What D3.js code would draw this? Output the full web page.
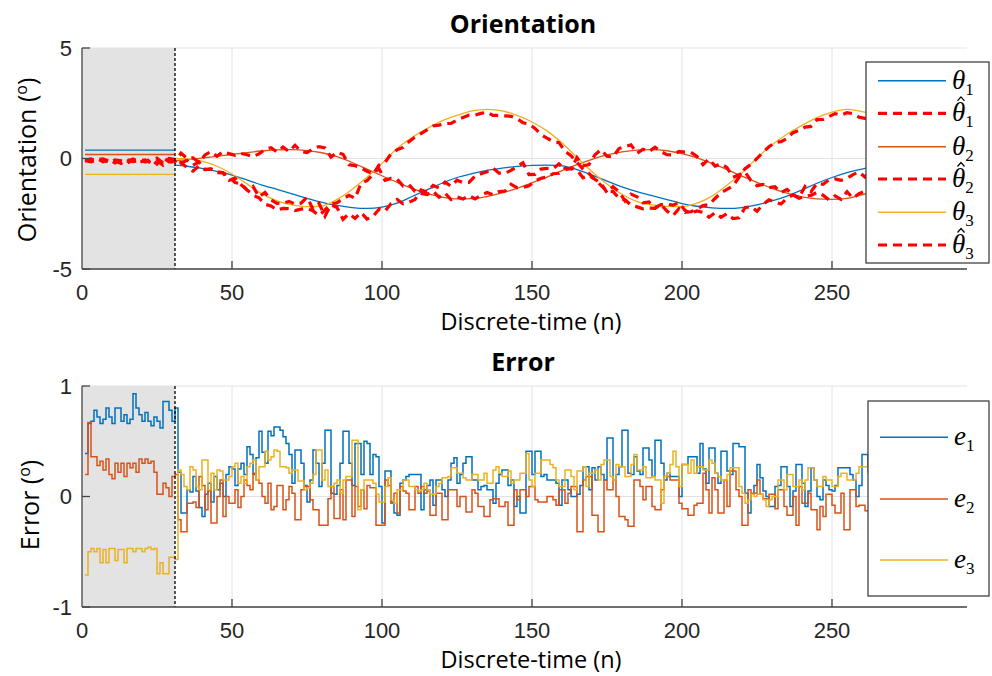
<!DOCTYPE html>
<html>
<head>
<meta charset="utf-8">
<script src="https://cdn.jsdelivr.net/npm/d3@7"></script>
<style>
  body { margin: 0; background: #fff; }
  svg { display: block; font-family: "Open Sans", Lato, sans-serif; }
</style>
</head>
<body>
<div id="chart"></div>
<script>
"use strict";

// ---- data ----
const initEnd = 31; // end of the initialisation window (shaded)

// true orientations, sampled every few steps after the init window
const thetaN = [31,35,40,45,50,55,60,65,70,75,80,85,90,95,100,105,110,115,120,125,130,135,140,145,150,155,160,165,170,175,180,185,190,195,200,205,210,215,220,225,230,235,240,245,250,255,260,265];
const theta1 = [-0.30,-0.35,-0.45,-0.58,-0.75,-0.97,-1.2,-1.4,-1.6,-1.8,-1.98,-2.12,-2.22,-2.26,-2.2,-2.02,-1.72,-1.42,-1.12,-0.86,-0.68,-0.54,-0.44,-0.36,-0.31,-0.3,-0.33,-0.5,-0.75,-1.02,-1.28,-1.5,-1.68,-1.86,-2.04,-2.16,-2.23,-2.26,-2.22,-2.1,-1.92,-1.7,-1.42,-1.12,-0.86,-0.64,-0.48,-0.36];
const theta2 = [-0.1,-0.05,0.02,0.1,0.18,0.27,0.34,0.39,0.4,0.36,0.26,0.08,-0.18,-0.48,-0.78,-1.08,-1.35,-1.58,-1.75,-1.83,-1.82,-1.72,-1.56,-1.35,-1.1,-0.84,-0.55,-0.28,-0.04,0.16,0.3,0.38,0.4,0.35,0.22,0.03,-0.22,-0.5,-0.8,-1.08,-1.35,-1.57,-1.74,-1.83,-1.85,-1.8,-1.64,-1.48];
const theta3 = [0.0,-0.02,-0.12,-0.35,-0.7,-1.15,-1.6,-1.92,-2.1,-2.18,-2.15,-1.85,-1.4,-0.85,-0.22,0.45,0.95,1.35,1.7,1.95,2.15,2.22,2.15,1.95,1.65,1.25,0.7,0.05,-0.6,-1.15,-1.62,-1.95,-2.1,-2.17,-2.18,-2.02,-1.7,-1.2,-0.65,0.02,0.62,1.1,1.5,1.85,2.1,2.22,2.12,1.95];
// constant values inside the init window (n = 1..31)
const thetaInit = [0.38, 0.18, -0.72];

// estimates, every second sample n = 1, 3, ..., 263
const est1 = [-0.05,-0.1,0.0,-0.15,-0.05,-0.2,-0.08,-0.12,-0.02,-0.18,-0.1,-0.05,-0.25,0.05,-0.15,
  -0.15,-0.18,-0.41,-0.57,-0.33,-0.50,-0.48,-0.64,-0.65,-0.99,
  -0.89,-1.18,-1.42,-1.26,-1.74,-1.54,-1.87,-2.03,-2.02,-1.94,
  -2.06,-2.02,-1.75,-2.29,-2.03,-2.61,-2.09,-2.22,-2.75,-2.5,
  -2.71,-2.44,-2.74,-2.62,-2.30,-2.39,-2.04,-1.85,-2.05,-1.98,
  -1.86,-1.42,-1.52,-1.22,-1.33,-1.07,-1.26,-0.98,-1.09,-1.08,
  -0.80,-0.69,-0.60,-0.44,-0.66,-0.66,-0.54,-0.36,-0.19,-0.73,
  -0.72,-0.48,-0.45,-0.46,-0.24,-0.51,-0.43,-0.52,-0.87,-0.76,
  -0.95,-1.11,-1.55,-1.27,-1.50,-1.92,-1.61,-1.73,-2.01,-1.97,
  -2.23,-2.09,-2.07,-2.11,-2.0,-2.35,-2.47,-2.37,-2.44,-2.66,
  -2.45,-2.66,-2.49,-2.72,-2.68,-2.23,-2.17,-2.39,-2.08,-1.87,
  -1.97,-2.06,-1.79,-1.64,-1.77,-1.27,-1.50,-1.12,-1.17,-0.97,
  -0.92,-0.99,-0.90,-0.73,-0.61,-0.84,-0.61];
const est2 = [-0.08,-0.02,-0.12,-0.05,-0.18,-0.06,-0.1,-0.2,-0.08,-0.04,-0.15,-0.12,0.02,-0.2,-0.05,
  -0.15,0.24,0.01,0.03,-0.18,0.16,0.31,0.10,0.31,0.22,
  0.14,0.23,0.17,0.09,0.21,0.41,0.49,0.29,0.52,0.31,
  0.60,0.32,0.27,0.44,0.54,0.48,0.06,0.28,0.19,-0.28,
  -0.33,-0.42,-0.58,-0.68,-0.46,-0.99,-0.90,-0.93,-1.24,-1.18,
  -1.49,-1.58,-1.63,-1.48,-1.75,-1.56,-1.86,-1.74,-1.83,-1.68,
  -1.83,-1.67,-1.54,-1.64,-1.50,-1.47,-1.17,-1.32,-1.31,-1.24,
  -1.02,-0.89,-0.84,-0.69,-0.67,-0.44,-0.48,0.04,-0.33,-0.27,
  0.17,0.40,0.10,0.07,0.45,0.53,0.62,0.23,0.42,0.31,
  0.51,0.31,0.17,0.16,0.32,0.29,0.28,0.09,-0.28,-0.02,
  -0.34,-0.24,-0.41,-0.85,-0.74,-0.60,-1.00,-1.23,-1.17,-1.32,
  -1.28,-1.54,-1.40,-1.64,-1.80,-1.70,-1.67,-1.53,-1.66,-1.87,
  -1.69,-1.85,-1.50,-1.80,-1.59,-1.48,-1.42];
const est3 = [-0.1,-0.15,-0.06,-0.02,-0.12,-0.1,-0.22,-0.05,-0.14,-0.1,-0.06,-0.2,-0.1,-0.3,0.0,
  -0.05,-0.21,-0.08,-0.30,-0.16,-0.50,-0.47,-0.59,-0.64,-0.81,
  -1.09,-1.15,-1.42,-1.66,-1.78,-2.07,-2.15,-2.33,-2.26,-2.27,
  -2.36,-2.29,-2.26,-2.37,-2.58,-2.33,-2.06,-2.00,-1.82,-1.67,
  -1.80,-1.13,-1.00,-0.72,-0.30,-0.18,0.21,0.39,0.50,0.76,
  0.97,1.13,1.29,1.47,1.51,1.58,1.59,1.74,1.86,1.96,
  1.96,2.04,2.10,1.95,1.95,1.93,1.91,1.80,1.62,1.56,
  1.36,1.08,0.92,0.77,0.72,0.33,0.13,-0.18,-0.48,-0.68,
  -0.95,-1.22,-1.48,-1.49,-1.80,-1.87,-2.11,-2.19,-2.28,-2.24,
  -2.26,-2.08,-2.38,-2.58,-2.27,-2.44,-2.41,-2.29,-2.13,-2.09,
  -1.81,-1.55,-1.40,-1.24,-0.85,-0.46,-0.27,0.00,0.29,0.53,
  0.72,0.76,0.90,1.17,1.27,1.42,1.45,1.76,1.77,1.90,
  2.03,1.96,2.07,2.03,1.87,1.82,1.84];

// errors, one value per sample n = 1..263
const err1 = [0.39,0.66,0.68,0.78,0.72,0.66,0.7,0.8,0.72,0.66,0.8,0.8,0.68,0.74,0.66,0.7,0.93,0.8,0.74,0.68,0.76,0.68,0.64,0.72,0.68,0.62,0.86,0.86,0.78,0.68,0.8,
  0.22,-0.15,-0.15,0.06,0.04,0.18,0.05,-0.1,-0.18,0.02,
  0.12,-0.05,0.18,0.06,0.12,0.0,0.2,0.27,0.25,0.1,
  0.25,0.3,0.2,0.45,0.38,0.2,0.35,0.59,0.4,0.3,
  0.59,0.55,0.63,0.63,0.6,0.54,0.48,0.38,0.12,0.42,
  0.42,0.3,0.1,-0.05,0.15,0.42,0.3,0.09,0.3,0.6,
  0.6,0.03,0.02,0.1,0.3,0.59,0.59,0.3,0.1,0.48,
  0.48,0.2,0.5,0.48,0.2,0.38,0.36,0.09,-0.24,0.23,
  0.23,-0.05,-0.15,-0.17,0.12,0.15,0.18,0.2,0.2,0.2,
  0.2,-0.12,0.06,0.1,0.15,-0.08,0.15,0.15,0.06,0.0,
  0.15,0.3,0.35,0.12,0.2,0.3,0.36,0.36,0.15,0.15,
  0.06,0.09,0.1,0.06,0.06,-0.06,0.12,0.2,0.24,0.24,
  0.1,0.15,-0.09,0.0,-0.15,-0.15,0.41,0.41,0.2,0.41,
  0.41,0.18,0.2,0.15,0.15,0.15,0.12,-0.08,0.15,0.15,
  0.06,0.0,0.0,0.02,0.1,0.27,0.27,0.06,0.26,0.15,
  0.27,0.2,0.15,0.53,0.53,0.15,0.2,0.27,0.6,0.6,
  0.21,0.2,0.36,0.23,0.2,0.44,0.44,0.33,0.18,0.51,
  0.51,0.3,0.15,0.21,0.18,0.18,0.18,0.0,0.29,0.29,
  0.36,0.36,0.36,0.21,0.48,0.25,0.12,0.44,0.44,0.21,
  0.12,0.41,0.41,0.23,0.2,0.48,0.48,0.45,0.45,0.03,
  -0.15,0.02,0.1,0.29,0.17,0.05,0.0,-0.09,-0.09,0.09,
  0.1,0.27,0.27,0.09,-0.09,0.05,0.29,0.29,0.12,-0.09,
  0.05,0.26,0.15,0.0,-0.03,0.15,0.1,0.06,0.05,0.1,
  0.26,0.26,0.26,0.26,0.2,0.15,0.0,0.1,0.38,0.38,
  0.23,0.2];
const err2 = [0.2,0.67,0.36,0.36,0.28,0.32,0.24,0.34,0.2,0.16,0.3,0.22,0.3,0.18,0.3,0.26,0.3,0.22,0.34,0.3,0.34,0.3,0.32,0.22,0.02,0.02,0.12,0.08,0.0,0.18,0.2,
  -0.21,-0.32,-0.32,-0.06,-0.06,-0.05,-0.1,0.18,0.1,-0.12,
  0.05,-0.24,-0.24,0.0,0.15,-0.18,0.0,-0.06,-0.06,0.06,
  -0.1,0.0,0.15,0.1,0.06,0.21,0.15,0.12,0.0,-0.06,
  0.12,-0.12,-0.09,0.1,0.1,-0.12,-0.03,0.09,0.03,-0.21,
  -0.21,0.06,0.09,0.09,-0.03,-0.12,-0.12,-0.26,-0.26,-0.26,
  -0.02,0.09,-0.2,-0.2,0.06,-0.21,0.15,0.15,-0.18,0.09,
  -0.09,0.06,-0.11,0.1,0.08,0.08,-0.26,-0.26,-0.26,0.15,
  0.1,-0.06,0.03,-0.15,0.09,0.05,0.03,-0.12,-0.12,0.09,
  0.03,0.09,0.03,0.05,-0.17,-0.17,0.03,0.03,-0.21,-0.21,
  0.06,0.06,0.06,-0.09,0.0,0.0,-0.14,-0.14,0.06,0.03,
  -0.09,-0.09,-0.18,-0.18,-0.03,-0.02,-0.02,-0.09,-0.09,-0.05,
  -0.26,-0.26,0.06,-0.03,0.06,0.06,0.0,0.09,0.09,-0.03,
  -0.05,-0.05,-0.05,0.0,0.0,-0.03,-0.08,0.06,0.06,-0.06,
  0.03,0.09,0.09,-0.32,-0.32,0.15,0.18,0.18,-0.17,-0.17,
  -0.32,-0.32,0.15,0.06,0.06,0.15,0.0,-0.18,-0.18,-0.21,
  -0.27,-0.27,0.15,0.15,0.09,-0.03,0.09,0.09,-0.09,-0.12,
  -0.12,0.06,0.18,0.18,0.15,0.15,0.15,-0.06,-0.11,-0.11,
  -0.17,-0.17,-0.08,-0.06,-0.06,0.21,0.06,-0.15,0.17,0.06,
  -0.15,-0.15,0.15,-0.09,0.23,0.23,0.06,0.0,-0.26,-0.26,
  0.06,0.03,0.03,0.15,0.02,-0.02,-0.02,0.02,0.02,-0.11,
  0.06,0.06,-0.09,-0.17,-0.17,0.0,-0.26,0.09,-0.06,-0.06,
  0.03,-0.12,-0.12,-0.3,-0.09,-0.18,0.02,0.02,-0.08,-0.15,
  -0.15,0.03,-0.3,-0.3,0.06,0.06,-0.09,-0.08,-0.08,-0.13,
  -0.13,-0.13];
const err3 = [-0.71,-0.5,-0.47,-0.5,-0.47,-0.6,-0.48,-0.6,-0.47,-0.47,-0.58,-0.48,-0.48,-0.6,-0.47,-0.47,-0.5,-0.47,-0.47,-0.5,-0.47,-0.46,-0.48,-0.47,-0.7,-0.6,-0.7,-0.7,-0.55,-0.55,-0.57,
  0.24,0.2,0.09,0.06,0.27,0.24,0.09,0.06,0.33,0.33,
  0.06,0.21,0.06,0.24,0.23,0.15,0.15,0.18,0.27,0.3,
  0.12,0.18,0.12,0.27,0.3,0.33,0.15,0.27,0.27,0.41,
  0.33,0.36,0.42,0.41,0.27,0.27,0.26,0.21,0.24,0.24,
  0.14,0.14,0.06,0.08,0.12,0.2,0.42,0.42,0.15,0.24,
  0.09,0.09,0.12,0.15,0.03,0.15,0.18,0.18,0.51,0.51,
  -0.12,0.06,0.15,0.15,0.15,0.12,0.02,-0.05,-0.05,0.09,
  0.17,-0.03,-0.06,0.06,0.06,0.15,0.15,0.09,0.09,0.06,
  0.05,0.06,0.12,0.06,0.02,0.02,0.09,0.12,0.17,0.17,
  0.18,0.26,0.26,0.21,0.21,0.17,0.15,0.15,0.2,0.2,
  0.15,0.15,0.21,0.12,0.12,0.24,0.27,0.21,0.18,0.18,
  0.23,0.12,0.15,0.15,0.21,0.21,0.39,0.15,0.09,0.21,
  0.21,0.33,0.33,0.33,0.29,0.26,0.15,0.09,0.09,0.24,
  0.24,0.18,0.06,0.23,0.23,0.27,0.09,0.21,0.21,0.24,
  0.15,0.29,0.33,0.33,0.18,0.15,0.29,0.27,0.27,0.18,
  0.18,0.29,0.38,0.24,0.24,0.27,0.17,0.17,0.18,0.15,
  0.15,-0.06,0.18,0.21,0.29,0.41,0.27,0.09,0.29,0.29,
  0.21,0.33,0.21,0.27,0.27,0.24,0.24,0.33,0.3,0.21,
  0.18,0.15,0.15,0.2,0.26,0.26,0.26,0.09,0.03,-0.06,
  -0.03,0.02,0.0,0.02,0.02,-0.03,-0.09,-0.03,0.0,0.0,
  0.15,0.15,0.06,0.2,0.2,0.09,0.09,0.15,0.06,0.15,
  0.26,0.26,0.15,0.09,0.09,0.18,0.15,0.15,0.09,0.09,
  0.18,0.21,0.21,0.15,0.15,0.15,0.21,0.27,0.27,0.27,
  0.21,0.21];

const xTicks = [0, 50, 100, 150, 200, 250];
const colors = ["#0072BD", "#D95319", "#EDB120"];
const estColor = "#FF0000";

// ---- layout ----
const W = 992, H = 676;
const svg = d3.select("#chart").append("svg")
  .attr("width", W).attr("height", H)
  .attr("viewBox", `0 0 ${W} ${H}`);

const x = d3.scaleLinear().domain([0, 295]).range([82, 967]);

const estN = d3.range(1, 264, 2);
const errN = d3.range(1, 264);

function panel(o) {
  const y = d3.scaleLinear().domain(o.yDomain).range([o.bottom, o.top]);
  const g = svg.append("g");

  g.append("clipPath").attr("id", o.id)
    .append("rect").attr("x", x(0)).attr("y", o.top)
    .attr("width", x(295) - x(0)).attr("height", o.bottom - o.top);

  // grid
  g.selectAll(null).data(xTicks.slice(1)).join("line")
    .attr("x1", d => x(d)).attr("x2", d => x(d))
    .attr("y1", o.top).attr("y2", o.bottom)
    .attr("stroke", "#e2e2e2").attr("stroke-width", 1);
  g.selectAll(null).data(o.yTicks).join("line")
    .attr("x1", x(0)).attr("x2", x(295))
    .attr("y1", d => y(d)).attr("y2", d => y(d))
    .attr("stroke", "#e2e2e2").attr("stroke-width", 1);

  // init window
  g.append("rect")
    .attr("x", x(0)).attr("y", o.top)
    .attr("width", x(initEnd) - x(0)).attr("height", o.bottom - o.top)
    .attr("fill", "#e3e3e3");

  const plot = g.append("g").attr("clip-path", `url(#${o.id})`);
  o.draw(plot, y);

  // end of init window
  g.append("line")
    .attr("x1", x(initEnd)).attr("x2", x(initEnd))
    .attr("y1", o.top).attr("y2", o.bottom)
    .attr("stroke", "#000").attr("stroke-width", 1.3)
    .attr("stroke-dasharray", "3,2");

  // axes (box off, inward ticks)
  const axisColor = "#444";
  g.append("line").attr("x1", x(0)).attr("x2", x(0)).attr("y1", o.top).attr("y2", o.bottom)
    .attr("stroke", axisColor).attr("stroke-width", 1.3);
  g.append("line").attr("x1", x(0)).attr("x2", x(295)).attr("y1", o.bottom).attr("y2", o.bottom)
    .attr("stroke", axisColor).attr("stroke-width", 1.3);
  g.selectAll(null).data(o.yTicks).join("line")
    .attr("x1", x(0)).attr("x2", x(0) + 8)
    .attr("y1", d => y(d)).attr("y2", d => y(d))
    .attr("stroke", axisColor).attr("stroke-width", 1.3);
  g.selectAll(null).data(xTicks.slice(1)).join("line")
    .attr("x1", d => x(d)).attr("x2", d => x(d))
    .attr("y1", o.bottom).attr("y2", o.bottom - 8)
    .attr("stroke", axisColor).attr("stroke-width", 1.3);

  // tick labels
  g.selectAll(null).data(o.yTicks).join("text")
    .attr("x", 72).attr("y", d => y(d))
    .attr("dy", "0.35em").attr("text-anchor", "end")
    .attr("font-family", "'Liberation Sans', Arial, sans-serif")
    .attr("font-size", 22).attr("fill", "#262626")
    .text(d => d);
  g.selectAll(null).data(xTicks).join("text")
    .attr("x", d => x(d)).attr("y", o.bottom + 31)
    .attr("text-anchor", "middle")
    .attr("font-family", "'Liberation Sans', Arial, sans-serif")
    .attr("font-size", 22).attr("fill", "#262626")
    .text(d => d);

  // titles and labels
  g.append("text").attr("x", 523).attr("y", o.top - 15)
    .attr("text-anchor", "middle").attr("font-weight", "bold")
    .attr("font-size", 25).attr("fill", "#000")
    .text(o.title);
  g.append("text").attr("x", 531).attr("y", o.bottom + 61)
    .attr("text-anchor", "middle").attr("font-size", 23.5).attr("fill", "#000")
    .text("Discrete-time (n)");
  const yl = g.append("text")
    .attr("transform", `translate(${o.ylabelX},${o.ylabelY}) rotate(-90)`)
    .attr("text-anchor", "middle").attr("font-size", 25).attr("fill", "#000");
  yl.append("tspan").text(o.ylabel + " (");
  yl.append("tspan").attr("font-size", 16).attr("dy", -9).text("o");
  yl.append("tspan").attr("dy", 9).text(")");

  return y;
}

function legend(o) {
  const g = svg.append("g");
  g.append("rect").attr("x", o.x).attr("y", o.y).attr("width", o.w).attr("height", o.h)
    .attr("fill", "#fff").attr("stroke", "#333").attr("stroke-width", 1.2);
  o.items.forEach((it, i) => {
    const cy = o.rows[i];
    g.append("line").attr("x1", o.x + 12).attr("x2", o.x + 80)
      .attr("y1", cy).attr("y2", cy)
      .attr("stroke", it.color).attr("stroke-width", it.width)
      .attr("stroke-dasharray", it.dash || null);
    const t = g.append("text").attr("x", o.x + 86).attr("y", cy + 8)
      .attr("font-family", "'Liberation Serif', 'DejaVu Serif', serif")
      .attr("font-size", 27).attr("fill", "#000");
    t.append("tspan").attr("font-style", "italic").text(it.sym);
    t.append("tspan").attr("font-size", 17).attr("dy", 6).text(it.sub);
    if (it.hat) {
      // circumflex accent drawn as a small stroke above the theta
      const hx = o.x + 95, hy = cy - 15;
      g.append("path")
        .attr("d", `M${hx - 3.5},${hy + 2.5}L${hx},${hy - 1.5}L${hx + 3.5},${hy + 2.5}`)
        .attr("fill", "none").attr("stroke", "#000").attr("stroke-width", 1.2);
    }
  });
}

// ---- Orientation panel ----
panel({
  id: "clipTop", yDomain: [-5, 5], top: 48, bottom: 269, yTicks: [-5, 0, 5],
  title: "Orientation", ylabel: "Orientation", ylabelX: 36, ylabelY: 160,
  draw: (p, y) => {
    const line = d3.line().x(d => x(d[0])).y(d => y(d[1]));
    const smooth = d3.line().x(d => x(d[0])).y(d => y(d[1])).curve(d3.curveMonotoneX);
    const thetas = [theta1, theta2, theta3];
    const ests = [est1, est2, est3];
    thetas.forEach((th, k) => {
      p.append("path")
        .datum([[1, thetaInit[k]], [initEnd, thetaInit[k]]])
        .attr("d", line).attr("fill", "none")
        .attr("stroke", colors[k]).attr("stroke-width", 1.3);
    });
    thetas.forEach((th, k) => {
      p.append("path")
        .datum(thetaN.map((n, i) => [n, th[i]]))
        .attr("d", smooth).attr("fill", "none")
        .attr("stroke", colors[k]).attr("stroke-width", 1.3);
    });
    ests.forEach(es => {
      p.append("path")
        .datum(estN.map((n, i) => [n, es[i]]))
        .attr("d", line).attr("fill", "none")
        .attr("stroke", estColor).attr("stroke-width", 3.2)
        .attr("stroke-dasharray", "9,6");
    });
  }
});

// ---- Error panel ----
panel({
  id: "clipBot", yDomain: [-1, 1], top: 386, bottom: 607, yTicks: [-1, 0, 1],
  title: "Error", ylabel: "Error", ylabelX: 39, ylabelY: 505,
  draw: (p, y) => {
    const stairs = d3.line().x(d => x(d[0])).y(d => y(d[1])).curve(d3.curveStepAfter);
    [err1, err2, err3].forEach((es, k) => {
      p.append("path")
        .datum(errN.map((n, i) => [n, es[i]]).concat([[264, es[es.length - 1]]]))
        .attr("d", stairs).attr("fill", "none")
        .attr("stroke", colors[k]).attr("stroke-width", 1.5);
    });
  }
});

legend({
  x: 866, y: 62, w: 123, h: 201,
  rows: [80.7, 113.3, 146.7, 179, 212.3, 245],
  items: [
    { color: colors[0], width: 1.5, sym: "θ", sub: "1" },
    { color: estColor, width: 3.2, dash: "9,6", sym: "θ", sub: "1", hat: true },
    { color: colors[1], width: 1.5, sym: "θ", sub: "2" },
    { color: estColor, width: 3.2, dash: "9,6", sym: "θ", sub: "2", hat: true },
    { color: colors[2], width: 1.5, sym: "θ", sub: "3" },
    { color: estColor, width: 3.2, dash: "9,6", sym: "θ", sub: "3", hat: true }
  ]
});

legend({
  x: 868, y: 401, w: 121, h: 195,
  rows: [437.3, 499, 560],
  items: [
    { color: colors[0], width: 1.5, sym: "e", sub: "1" },
    { color: colors[1], width: 1.5, sym: "e", sub: "2" },
    { color: colors[2], width: 1.5, sym: "e", sub: "3" }
  ]
});
</script>
</body>
</html>
